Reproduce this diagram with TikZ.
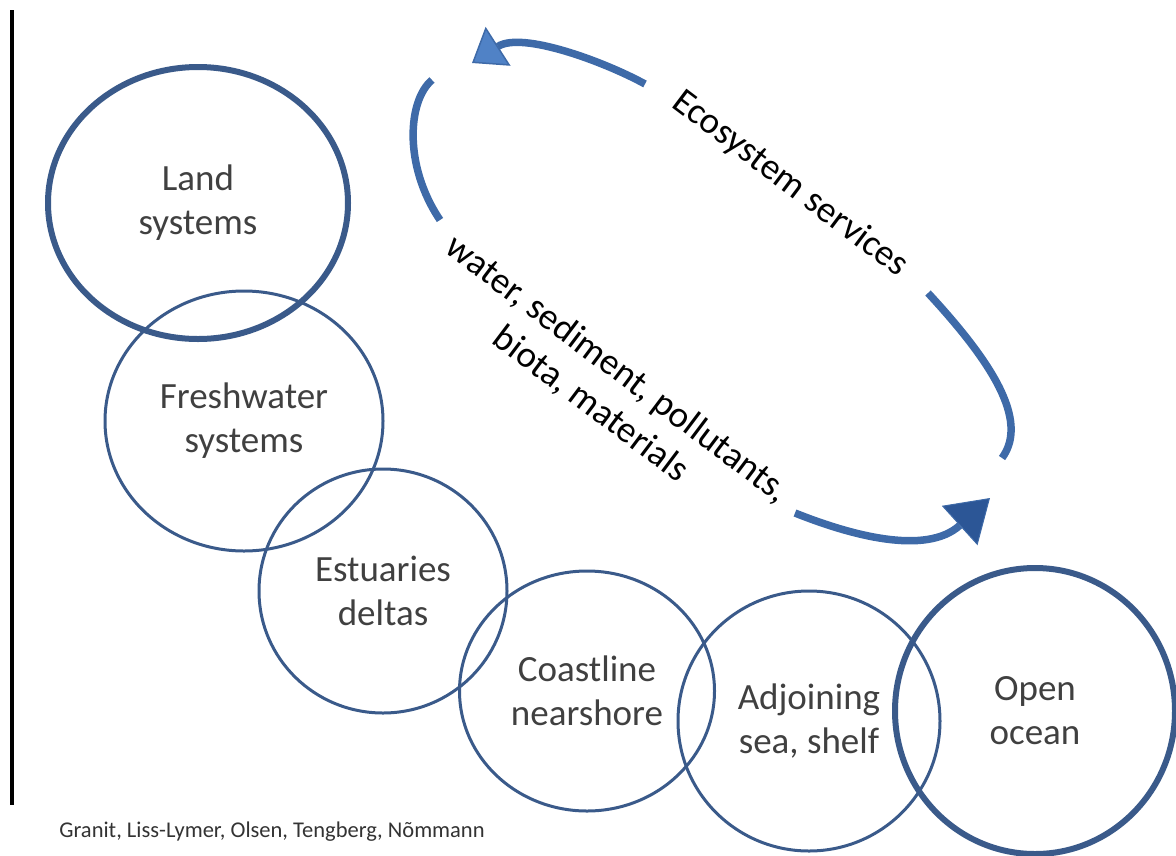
\documentclass[tikz,border=0pt]{standalone}
\usepackage{fontspec}
\setmainfont{Carlito}
\usetikzlibrary{shapes.geometric}
\usetikzlibrary{arrows.meta}
\definecolor{ringblue}{RGB}{58,90,138}
\definecolor{flowblue}{RGB}{62,106,168}
\definecolor{headlight}{RGB}{80,130,198}
\definecolor{headdark}{RGB}{44,86,150}
\definecolor{labelgrey}{RGB}{64,64,64}
\tikzset {
  % one zone of the land-sea chain
  zone/.style = {
    draw = ringblue,
    ellipse,
    line width = 3pt,
    inner sep = 0,
    align = center,
    text = labelgrey,
    font = \fontsize{37}{44}\selectfont
  },
  % the two outer zones have a heavier ring
  end zone/.style = {
    zone,
    line width = 6pt
  },
  % rotated text between the flow arcs
  flow label/.style = {
    align = center,
    rotate = -37,
    font = \fontsize{37}{44}\selectfont
  },
  credit/.style = {
    text = black!80,
    font = \fontsize{22.5}{26}\selectfont
  }
}
\tikzset {
  % thick blue arc
  flow/.style = {
    draw = flowblue,
    line width = 7.5pt
  },
  % arc with a light head
  flow up/.style = {
    flow,
    -{Triangle[length=31pt,width=46pt,fill=headlight,line width'=1.5pt]}
  },
  % arc with a dark head
  flow down/.style = {
    flow,
    -{Triangle[length=41pt,width=53pt,fill=headdark,line width'=1pt]}
  }
}
\begin{document}
\begin{tikzpicture}[x=1pt,y=-1pt]
  \useasboundingbox (0,0) rectangle (1176,855);
  \draw[line width=4pt] (12,10) -- (12,805);

  \node[end zone, minimum width=300pt, minimum height=272pt] (land) at (198,203) {Land\\systems};
  \node[zone, minimum width=278pt, minimum height=260pt] (fresh) at (244,421) {Freshwater\\systems};
  \node[zone, minimum width=248pt, minimum height=244pt] (estuary) at (383,591) {Estuaries\\deltas};
  \node[zone, minimum width=255pt, minimum height=240pt] (coast) at (587,691) {Coastline\\nearshore};
  \node[zone, minimum width=262pt, minimum height=260pt] (shelf) at (809,721) {Adjoining\\sea, shelf};
  \node[end zone, minimum width=280pt, minimum height=286pt] (ocean) at (1035,711) {Open\\ocean};

  \node[flow label] (services) at (790,184) {Ecosystem services};
  \node[flow label] (matter) at (604,387) {water, sediment, pollutants,\\biota, materials};
  \node[credit] (credit) at (272,832) {Granit, Liss-Lymer, Olsen, Tengberg, Nõmmann};

  \coordinate (up-start) at (645,84);
  \coordinate (up-tip) at (472,63);
  \coordinate (left-top) at (432,80);
  \coordinate (left-end) at (440,220);
  \coordinate (right-top) at (928,293);
  \coordinate (right-end) at (1002,458);
  \coordinate (down-start) at (795,513);
  \coordinate (down-tip) at (990,498);

  \draw[flow up] (up-start)
  .. controls (605,62) and (522,31) .. (up-tip);

  \draw[flow] (left-top)
  .. controls (408,100) and (403,165) .. (left-end);

  \draw[flow] (right-top)
  .. controls (990,360) and (1030,420) .. (right-end);

  \draw[flow down] (down-start)
  .. controls (850,535) and (926,556) .. (down-tip);
\end{tikzpicture}
\end{document}
